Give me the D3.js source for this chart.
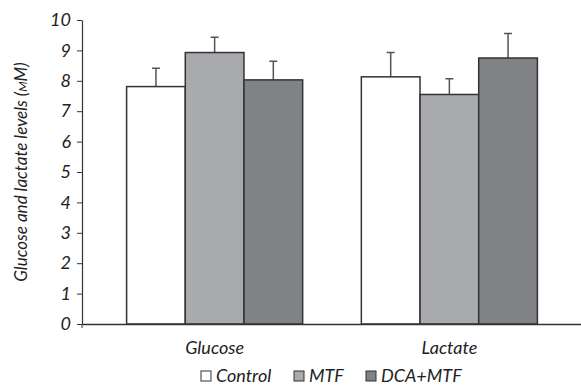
<!DOCTYPE html>
<html>
<head>
<meta charset="utf-8">
<script src="https://cdn.jsdelivr.net/npm/d3@7"></script>
<style>
  body { margin: 0; background: #fff; }
  text { font-family: Lato, "Open Sans", sans-serif; font-style: italic; fill: #222; }
</style>
</head>
<body>
<svg id="chart" width="581" height="386"></svg>
<script>
// values
var groups = ["Glucose", "Lactate"];
var series = ["Control", "MTF", "DCA+MTF"];
var control = [7.81, 8.13];
var controlErr = [0.60, 0.80];
var mtf = [8.93, 7.55];
var mtfErr = [0.50, 0.52];
var dcaMtf = [8.03, 8.75];
var dcaMtfErr = [0.61, 0.81];
var yTicks = [0, 1, 2, 3, 4, 5, 6, 7, 8, 9, 10];
var colors = ["#ffffff", "#a9aaae", "#818286"];

var data = groups.map(function(g, i) {
  return {
    group: g,
    values: [
      { key: "Control", v: control[i], e: controlErr[i] },
      { key: "MTF", v: mtf[i], e: mtfErr[i] },
      { key: "DCA+MTF", v: dcaMtf[i], e: dcaMtfErr[i] }
    ]
  };
});

var svg = d3.select("#chart");
var m = {left: 82, right: 582, top: 20, bottom: 324};

var x0 = d3.scaleBand()
  .domain(groups)
  .range([m.left, m.right])
  .paddingInner(0.25)
  .paddingOuter(0.19);

var x1 = d3.scaleBand()
  .domain(series)
  .range([0, x0.bandwidth()]);

var y = d3.scaleLinear()
  .domain([0, 10])
  .range([m.bottom, m.top]);

var z = d3.scaleOrdinal().domain(series).range(colors);

// bars
var grp = svg.selectAll(".grp")
  .data(data)
  .enter().append("g")
    .attr("class", "grp")
    .attr("transform", function(d) { return "translate(" + x0(d.group) + ",0)"; });

// error bars (upper only), drawn under bars
grp.selectAll(".err")
  .data(function(d) { return d.values; })
  .enter().append("path")
    .attr("class", "err")
    .attr("fill", "none")
    .attr("stroke", "#555")
    .attr("stroke-width", 1.5)
    .attr("d", function(d) {
      var cx = x1(d.key) + x1.bandwidth() / 2;
      return "M" + cx + "," + y(d.v) + "V" + y(d.v + d.e) +
             "M" + (cx - 4) + "," + y(d.v + d.e) + "H" + (cx + 4);
    });

grp.selectAll("rect")
  .data(function(d) { return d.values; })
  .enter().append("rect")
    .attr("x", function(d) { return x1(d.key); })
    .attr("y", function(d) { return y(d.v); })
    .attr("width", x1.bandwidth())
    .attr("height", function(d) { return y(0) - y(d.v); })
    .attr("fill", function(d) { return z(d.key); })
    .attr("stroke", "#333")
    .attr("stroke-width", 1.5);

// y axis
var yAxis = svg.append("g")
  .attr("transform", "translate(" + m.left + ",0)")
  .call(d3.axisLeft(y).tickValues(yTicks).tickSize(5).tickSizeOuter(0).tickPadding(6));
yAxis.select(".domain").attr("stroke", "#333").attr("stroke-width", 1.2);
yAxis.selectAll(".tick line").attr("stroke", "#333");
yAxis.selectAll("text").attr("font-size", 18).attr("fill", "#222").attr("font-family", null);

// x axis
var xAxis = svg.append("g")
  .attr("transform", "translate(0," + m.bottom + ")")
  .call(d3.axisBottom(x0).tickSize(0).tickSizeOuter(0).tickPadding(17));
xAxis.select(".domain").attr("stroke", "#333").attr("stroke-width", 1.5);
xAxis.selectAll("text").attr("font-size", 18).attr("fill", "#222").attr("font-family", null);
svg.append("line")
  .attr("x1", m.left).attr("x2", m.left)
  .attr("y1", m.bottom).attr("y2", m.bottom + 4)
  .attr("stroke", "#333");

// y label
var yLab = svg.append("text")
  .attr("transform", "translate(27,172) rotate(-90)")
  .attr("text-anchor", "middle")
  .attr("font-size", 17)
  .text("Glucose and lactate levels (");
yLab.append("tspan").style("font-variant", "small-caps").text("mM");
yLab.append("tspan").text(")");

// legend
var legendX = [201, 294, 366];
var legend = svg.selectAll(".legend")
  .data(series)
  .enter().append("g")
    .attr("class", "legend")
    .attr("transform", function(d, i) { return "translate(" + legendX[i] + ",371)"; });

legend.append("rect")
  .attr("width", 10)
  .attr("height", 10)
  .attr("fill", function(d) { return z(d); })
  .attr("stroke", "#333");

legend.append("text")
  .attr("x", 15)
  .attr("y", 10.5)
  .attr("font-size", 18)
  .text(function(d) { return d; });
</script>
</body>
</html>
